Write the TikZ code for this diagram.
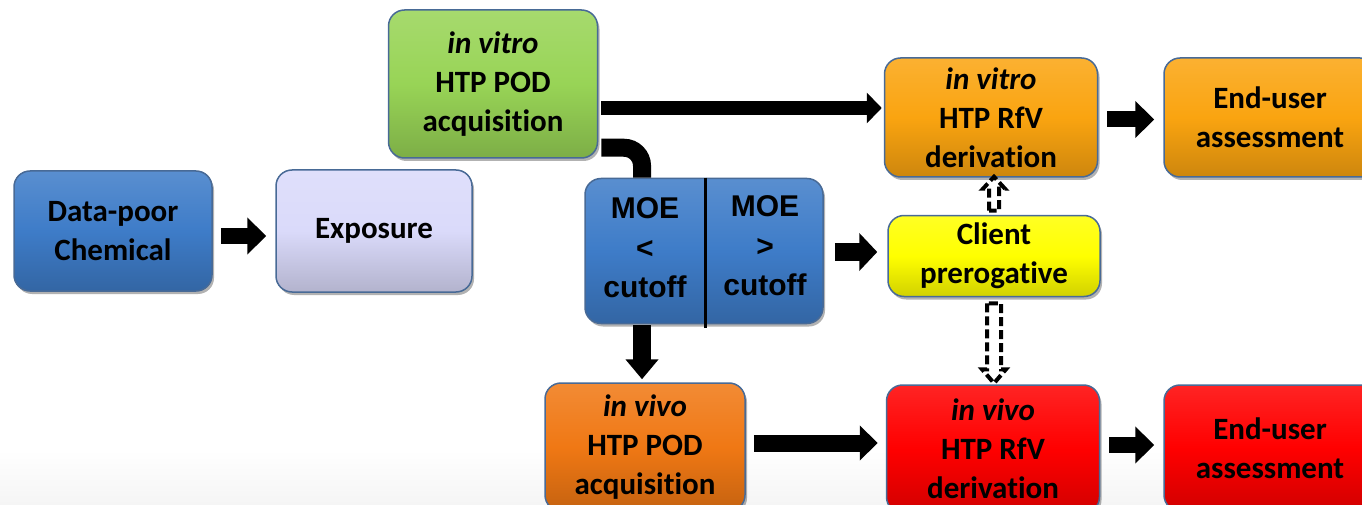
\documentclass[tikz,border=0pt]{standalone}
\usepackage{fontspec}
\setmainfont[Ligatures=NoCommon]{Carlito}
\newfontfamily\arialfont{Liberation Sans}
\usetikzlibrary{arrows.meta,shadows,calc}

\definecolor{cblue}{RGB}{62,124,200}
\definecolor{clav}{RGB}{218,218,250}
\definecolor{cgreen}{RGB}{152,212,86}
\definecolor{corange}{RGB}{250,164,16}
\definecolor{cyellow}{RGB}{255,255,0}
\definecolor{cdorange}{RGB}{240,120,20}
\definecolor{cred}{RGB}{255,0,0}
\definecolor{cline}{RGB}{72,106,150}

\tikzset{
  box/.style={draw=cline, line width=1.5pt, rounded corners=16pt,
    align=center, inner sep=0pt,
    font=\fontsize{31}{39}\selectfont\bfseries,
    top color=#1!86!white, bottom color=#1!82!black, middle color=#1,
    drop shadow={shadow xshift=2pt, shadow yshift=-3pt, opacity=0.3, fill=black}},
  moetext/.style={align=center, inner sep=0pt,
    font=\arialfont\fontsize{30}{39.5}\selectfont\bfseries},
  blk/.style={line width=16pt, draw=black,
    -{Triangle[length=19pt,width=36pt]}},
  elbow/.style={line width=18pt, draw=black, rounded corners=18pt},
  dasharrow/.style={draw=black, fill=white, line width=4pt,
    dash pattern=on 9pt off 4pt, line join=miter},
}

\begin{document}
\begin{tikzpicture}[x=1pt,y=-1pt]
  \useasboundingbox (0,0) rectangle (1362,505);
  \clip (0,0) rectangle (1362,505);
  % faint floor at the bottom
  \fill[top color=white, bottom color=black!4] (0,450) rectangle (1362,505);

  % boxes
  \node[box=cblue, minimum width=198pt, minimum height=120pt] (chem) at (113,231)
    {Data-poor\\Chemical};
  \node[box=clav, minimum width=196pt, minimum height=122pt] (expo) at (374,231)
    {Exposure};
  \node[box=cgreen, minimum width=209pt, minimum height=148pt] (vpodin) at (493,84)
    {\textit{in vitro}\\HTP POD\\acquisition};
  \node[box=cblue, minimum width=238pt, minimum height=145pt] (moe) at (704,251) {};
  \node[moetext] (moelo) at (645,248) {MOE\\<\\cutoff};
  \node[moetext] (moehi) at (765,246) {MOE\\>\\cutoff};
  \draw[line width=3pt] ([xshift=1pt]moe.north) -- ([xshift=1pt,yshift=-4pt]moe.south);
  \node[box=corange, minimum width=213pt, minimum height=119pt] (rfvin) at (991,117.5)
    {\textit{in vitro}\\HTP RfV\\derivation};
  \node[box=corange, minimum width=212pt, minimum height=119pt] (endin) at (1270,117.5)
    {End-user\\assessment};
  \node[box=cyellow, minimum width=212pt, minimum height=81pt] (client) at (994,256)
    {Client\\prerogative};
  \node[box=cdorange, minimum width=200pt, minimum height=128pt] (vpodvivo) at (645,447)
    {\textit{in vivo}\\HTP POD\\acquisition};
  \node[box=cred, minimum width=213pt, minimum height=128pt] (rfvvivo) at (993,449)
    {\textit{in vivo}\\HTP RfV\\derivation};
  \node[box=cred, minimum width=212pt, minimum height=126pt] (endvivo) at (1270,448)
    {End-user\\assessment};

  % solid connectors
  \draw[blk, shorten <=8pt, shorten >=9pt]
    ([yshift=-5pt]chem.east) -- ([yshift=-5pt]chem.east -| expo.west);
  \draw[line width=14pt, -{Triangle[length=15pt,width=30pt]}, shorten <=3pt, shorten >=2pt]
    ([yshift=-24pt]vpodin.east) -- ([yshift=-24pt]vpodin.east -| rfvin.west);
  \draw[elbow] ([shift={(3pt,11pt)}]vpodin.south east) -| ([xshift=-62pt]moe.north);
  \draw[blk, line width=18pt, -{Triangle[length=20pt,width=32pt]}, shorten <=1pt, shorten >=3pt]
    ([xshift=-62pt]moe.south) -- ([xshift=-62pt]moe.south |- vpodvivo.north);
  \draw[blk, line width=18pt, -{Triangle[length=18pt,width=37pt]}, shorten <=11pt, shorten >=10pt]
    ([yshift=-1pt]moe.east) -- ([yshift=-1pt]moe.east -| client.west);
  \draw[blk, shorten <=9pt, shorten >=9pt]
    ([yshift=-2pt]rfvin.east) -- ([yshift=-2pt]rfvin.east -| endin.west);
  \draw[blk, line width=17pt, -{Triangle[length=18pt,width=34pt]}, shorten <=8pt, shorten >=8pt]
    ([yshift=4pt]vpodvivo.east) -- ([yshift=4pt]vpodvivo.east -| rfvvivo.west);
  \draw[blk, shorten <=9pt, shorten >=9pt]
    ([yshift=4pt]rfvvivo.east) -- ([yshift=4pt]rfvvivo.east -| endvivo.west);

  % dashed connectors from the client box
  \draw[dasharrow] ([shift={(-5pt,4pt)}]client.north)
    -- ++(0,-22) -- ++(-6,0) -- ++(11,-12) -- ++(11,12) -- ++(-6,0) -- ++(0,22) -- cycle;
  \draw[dasharrow] ([shift={(-7pt,-6pt)}]client.south)
    -- ++(0,66) -- ++(-5,0) -- ++(12,14) -- ++(12,-14) -- ++(-5,0) -- ++(0,-66) -- cycle;
\end{tikzpicture}
\end{document}
